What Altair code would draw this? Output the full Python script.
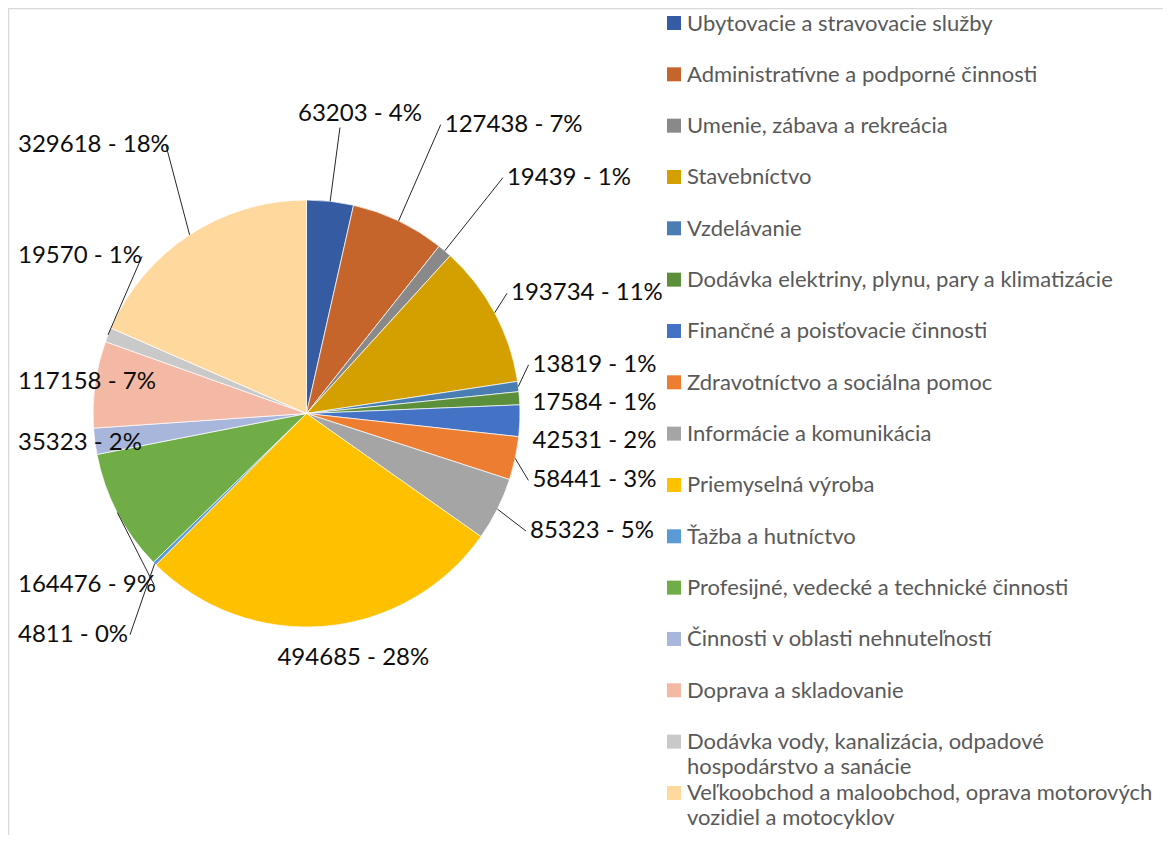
import textwrap
import altair as alt
import pandas as pd

categories = [
    "Ubytovacie a stravovacie služby",
    "Administratívne a podporné činnosti",
    "Umenie, zábava a rekreácia",
    "Stavebníctvo",
    "Vzdelávanie",
    "Dodávka elektriny, plynu, pary a klimatizácie",
    "Finančné a poisťovacie činnosti",
    "Zdravotníctvo a sociálna pomoc",
    "Informácie a komunikácia",
    "Priemyselná výroba",
    "Ťažba a hutníctvo",
    "Profesijné, vedecké a technické činnosti",
    "Činnosti v oblasti nehnuteľností",
    "Doprava a skladovanie",
    "Dodávka vody, kanalizácia, odpadové hospodárstvo a sanácie",
    "Veľkoobchod a maloobchod, oprava motorových vozidiel a motocyklov",
]
values = [63203, 127438, 19439, 193734, 13819, 17584, 42531, 58441,
          85323, 494685, 4811, 164476, 35323, 117158, 19570, 329618]
colors = ["#355CA2", "#C5652B", "#898989", "#D4A000", "#4A7EB3", "#5B8F3A",
          "#4472C4", "#ED7D31", "#A5A5A5", "#FFC000", "#5B9BD5", "#70AD47",
          "#A9B6DC", "#F4B9A4", "#C9C9C9", "#FFD89E"]

W, H = 1155, 827
CX, CY, R = 298.5, 405.5, 213.5
FONT = "Lato"

df = pd.DataFrame({
    "cat": categories,
    "value": values,
    "idx": list(range(len(categories))),
    "legend_label": ["\n".join(textwrap.wrap(c, 45)) for c in categories],
})

xs = alt.Scale(domain=[0, W], nice=False, zero=False)
ys = alt.Scale(domain=[0, H], nice=False, zero=False, reverse=True)
color = alt.Color("cat:N", scale=alt.Scale(domain=categories, range=colors), legend=None)

base = alt.Chart(df)

pie = base.mark_arc(radius=R, stroke="white", strokeWidth=0.7).encode(
    theta=alt.Theta("value:Q", stack=True),
    order=alt.Order("idx:Q"),
    color=color,
    x=alt.value(CX),
    y=alt.value(CY),
)

geom = (
    base.transform_joinaggregate(total="sum(value)")
    .transform_window(cum="sum(value)", sort=[alt.SortField("idx")], frame=[None, 0])
    .transform_calculate(
        ang="2*PI*(datum.cum - datum.value/2)/datum.total",
        sx="sin(datum.ang)",
        sy="-cos(datum.ang)",
        lbl="datum.value + ' - ' + round(100*datum.value/datum.total) + '%'",
        bb="datum.sy < 0 ? 300 : 245",
        t="pow(pow(abs(datum.sx)/226, 4) + pow(abs(datum.sy)/datum.bb, 4), -0.25)",
        ax="datum.t*datum.sx",
        ay="datum.t*datum.sy",
        mode="abs(datum.sx) < 0.3 ? 'C' : (datum.sx > 0 ? 'R' : 'L')",
        gap="datum.mode == 'L' ? 50 : 38",
        estw="length(datum.lbl)*12.0",
        lx=(f"datum.mode == 'R' ? min({CX} + datum.ax, 647 - datum.estw) : "
            f"(datum.mode == 'L' ? max({CX} + datum.ax - datum.estw, 10) : {CX} + datum.ax - datum.estw*0.35)"),
        nx=(f"datum.mode == 'R' ? datum.lx - {CX} : "
            f"(datum.mode == 'L' ? datum.lx + datum.estw - {CX} : 1000)"),
        need=f"abs(datum.nx) < {R} ? sqrt({R}*{R} - datum.nx*datum.nx) + 26 : 0",
        ay2=("abs(datum.sy) > 0.3 && abs(datum.ay) < datum.need ? "
             "(datum.ay < 0 ? -datum.need : datum.need) : datum.ay"),
    )
    .transform_window(rn="row_number()", groupby=["mode"], sort=[alt.SortField("ay2")])
    .transform_calculate(z="datum.ay2 - datum.rn*datum.gap")
    .transform_window(zmax="max(z)", groupby=["mode"], sort=[alt.SortField("ay2")], frame=[None, 0])
    .transform_window(zmin="min(z)", groupby=["mode"], sort=[alt.SortField("ay2")], frame=[0, None])
    .transform_calculate(
        ly=(f"{CY} + datum.rn*datum.gap + "
            "(datum.mode == 'R' ? (datum.zmax + datum.zmin)/2 : datum.zmax)"),
        px=f"{CX} + {R}*datum.sx",
        py=f"{CY} + {R}*datum.sy",
        qx=(f"datum.mode == 'R' ? datum.lx - 4 : "
            f"(datum.mode == 'L' ? datum.lx + datum.estw + 4 : {CX} + datum.ax)"),
        qy="datum.mode == 'C' ? datum.ly + (datum.sy < 0 ? 14 : -14) : datum.ly",
        show=(f"sqrt(pow(datum.qx-{CX},2)+pow(datum.qy-{CY},2)) > {R}+5 && "
              "sqrt(pow(datum.qx-datum.px,2)+pow(datum.qy-datum.py,2)) > 22"),
    )
)

labels = geom.mark_text(align="left", baseline="middle", font=FONT, fontSize=24,
                        color="#0D0D0D").encode(
    x=alt.X("lx:Q", scale=xs, axis=None),
    y=alt.Y("ly:Q", scale=ys, axis=None),
    text="lbl:N",
)

leaders = geom.transform_filter("datum.show").mark_rule(color="#262626", strokeWidth=1).encode(
    x=alt.X("px:Q", scale=xs, axis=None),
    y=alt.Y("py:Q", scale=ys, axis=None),
    x2="qx:Q",
    y2="qy:Q",
)

leg = base.transform_calculate(legy="15 + datum.idx*51.33")
leg_sq = leg.mark_square(size=196, opacity=1).encode(
    x=alt.value(666),
    y=alt.Y("legy:Q", scale=ys, axis=None),
    color=color,
)
leg_txt = leg.mark_text(align="left", baseline="alphabetic", dy=7.5, font=FONT, fontSize=22,
                        color="#595959", lineBreak="\n", lineHeight=25).encode(
    x=alt.value(679),
    y=alt.Y("legy:Q", scale=ys, axis=None),
    text="legend_label:N",
)

frame_df = pd.DataFrame({"k": [0]})
frame_top = alt.Chart(frame_df).mark_rule(color="#D9D9D9", strokeWidth=1.5).encode(
    x=alt.value(0), x2=alt.value(W), y=alt.value(0.5))
frame_left = alt.Chart(frame_df).mark_rule(color="#D9D9D9", strokeWidth=1.5).encode(
    x=alt.value(0.5), y=alt.value(0), y2=alt.value(H))

chart = alt.layer(pie, leaders, labels, leg_sq, leg_txt, frame_top, frame_left).properties(
    width=W, height=H, padding=0,
    autosize=alt.AutoSizeParams(type="none"),
).configure_view(stroke=None)

chart.save("out.html", embed_options={"renderer": "svg", "actions": False})
